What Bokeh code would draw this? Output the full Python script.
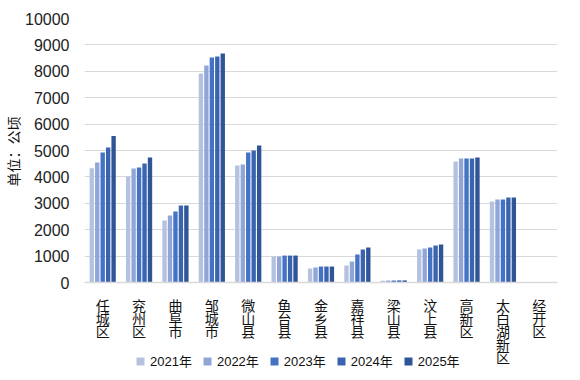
from bokeh.plotting import figure
from bokeh.models import (FactorRange, Range1d, FixedTicker, Legend, LegendItem,
                          ColumnDataSource, Title)
from bokeh.transform import dodge
from bokeh.embed import file_html
from bokeh.resources import INLINE

regions = ["任城区", "兖州区", "曲阜市", "邹城市", "微山县", "鱼台县", "金乡县",
           "嘉祥县", "梁山县", "汶上县", "高新区", "太白湖新区", "经开区"]
years = ["2021年", "2022年", "2023年", "2024年", "2025年"]
v2021 = [4330, 4020, 2350, 7920, 4430, 985, 530, 645, 70, 1250, 4580, 3070, 0]
v2022 = [4550, 4320, 2540, 8220, 4470, 985, 570, 795, 75, 1290, 4700, 3145, 0]
v2023 = [4925, 4355, 2690, 8520, 4925, 1020, 605, 1060, 75, 1325, 4700, 3145, 0]
v2024 = [5115, 4510, 2915, 8560, 5000, 1020, 605, 1250, 80, 1400, 4700, 3220, 0]
v2025 = [5545, 4735, 2915, 8675, 5190, 1020, 605, 1325, 80, 1440, 4735, 3220, 0]
yticks = list(range(0, 10001, 1000))

colors = ["#b4c2e0", "#91a6d8", "#4472c4", "#3b64b0", "#2f5597"]
series = [v2021, v2022, v2023, v2024, v2025]
offsets = [-0.3, -0.15, 0.0, 0.15, 0.3]

# vertical (one character per line) category labels
factors = ["\n".join(r) for r in regions]

src = ColumnDataSource(dict(region=factors, **{y: s for y, s in zip(years, series)}))

LATIN = "'Liberation Sans', 'Noto Sans CJK SC', sans-serif"
CJK = "'Noto Sans CJK SC', sans-serif"

# frame extends below zero so the category labels and the legend sit inside it
p = figure(x_range=FactorRange(factors=factors), y_range=Range1d(-3333, 10000),
           width=564, height=370, output_backend="svg", toolbar_location=None,
           min_border_left=77, min_border_right=7, min_border_top=18, min_border_bottom=0,
           outline_line_color=None)

renderers = []
for yr, off, c in zip(years, offsets, colors):
    r = p.vbar(x=dodge("region", off, range=p.x_range), top=yr, width=0.12, source=src,
               fill_color=c, line_color=None)
    renderers.append(r)

p.xgrid.grid_line_color = None
p.ygrid.grid_line_color = "#d9d9d9"
p.ygrid.grid_line_width = 1
p.ygrid.ticker = FixedTicker(ticks=yticks)

ya = p.yaxis[0]
ya.ticker = FixedTicker(ticks=yticks)
ya.axis_line_color = None
ya.major_tick_line_color = None
ya.minor_tick_line_color = None
ya.major_label_text_font = LATIN
ya.major_label_text_font_size = "16px"
ya.major_label_text_color = "#222222"
ya.major_label_standoff = 9

p.add_layout(Title(text="单位：公顷", align="left", offset=184, standoff=0,
                   text_font=CJK, text_font_style="normal", text_font_size="14px",
                   text_line_height=0.5, text_color="#111111"), "left")

xa = p.xaxis[0]
xa.fixed_location = 0
xa.axis_line_color = "#d9d9d9"
xa.axis_line_width = 1.5
xa.major_tick_line_color = None
xa.minor_tick_line_color = None
xa.major_label_text_font = CJK
xa.major_label_text_font_size = "14px"
xa.major_label_text_line_height = 0.66
xa.major_label_text_color = "#111111"
xa.major_label_standoff = 6
xa.major_label_orientation = "horizontal"

legend = Legend(items=[LegendItem(label=y, renderers=[r]) for y, r in zip(years, renderers)],
                orientation="horizontal", location=(51, 0),
                glyph_width=10, glyph_height=10, label_height=10, label_standoff=5, spacing=10,
                padding=0, margin=0, background_fill_alpha=0, border_line_color=None,
                label_text_font=LATIN, label_text_font_size="13px", label_text_color="#111111")
p.add_layout(legend)

open("out.html", "w").write(file_html(p, INLINE))
